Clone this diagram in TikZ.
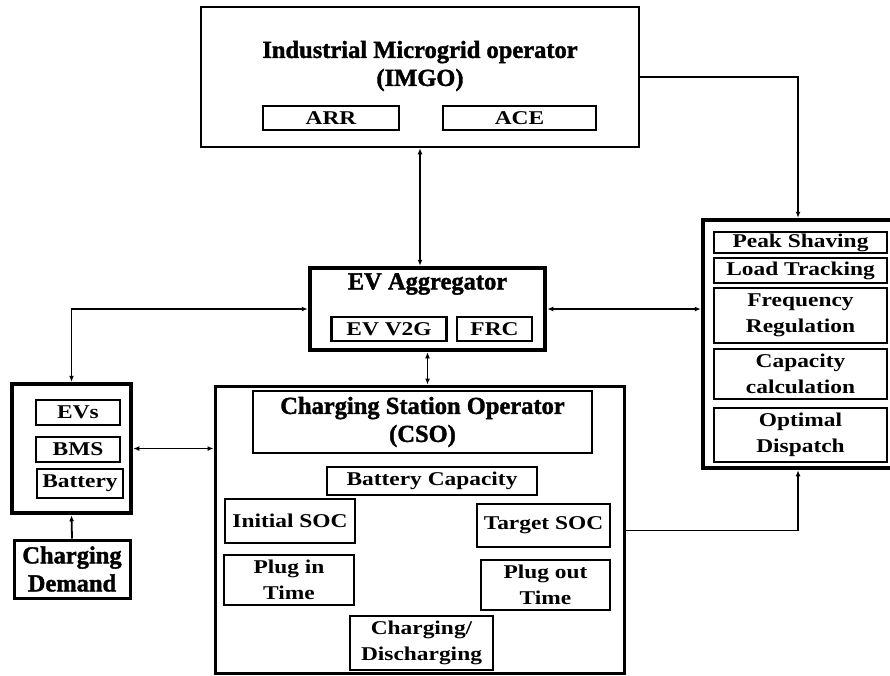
\documentclass[tikz,border=0pt]{standalone}
\usepackage{fontspec}
\setmainfont{Liberation Serif}
\newfontfamily\widefont{Liberation Serif}[FakeStretch=1.2]
\newfontfamily\headfont{Liberation Serif}[FakeBold=1.5]
\usetikzlibrary{arrows.meta,calc}

\begin{document}
\begin{tikzpicture}[x=1pt,y=-1pt,>={Latex[length=6pt,width=5pt]},
    frame/.style={draw,line width=2.5pt,inner sep=0pt},
    thick frame/.style={draw,line width=4.5pt,inner sep=0pt},
    sub/.style={draw,line width=2.2pt,inner sep=0pt,align=center,font=\widefont\fontsize{19.5}{26}\selectfont\bfseries},
    head/.style={inner sep=0pt,align=center,font=\headfont\fontsize{24.5}{28}\selectfont\bfseries},
    link/.style={line width=1.8pt}]
      \useasboundingbox (0,0) rectangle (890,675);
      % outer blocks
      \node[frame,minimum width=438,minimum height=140] (imgo) at (420,77) {};
      \node[thick frame,minimum width=235,minimum height=82] (agg) at (427.5,309) {};
      \node[thick frame,minimum width=190,minimum height=248] (serv) at (798,344) {};
      \node[thick frame,minimum width=119,minimum height=129] (ev) at (71.5,448.5) {};
      \node[frame,line width=3pt,minimum width=409,minimum height=287] (cso) at (419.5,529.5) {};
      \node[frame,line width=3pt,minimum width=116,minimum height=58,head] (dem) at (72,569) {Charging\\Demand};

      \node[head] (imgot) at (420,66) {Industrial Microgrid operator\\(IMGO)};
      \node[sub,minimum width=136,minimum height=24] (arr) at (331,118) {ARR};
      \node[sub,minimum width=153,minimum height=24] (ace) at (519.5,118) {ACE};

      \node[head] (aggt) at (427.5,284) {EV Aggregator};
      \node[sub,minimum width=115,minimum height=24] (v2g) at (389,329) {EV V2G};
      \node[sub,minimum width=75,minimum height=24] (frc) at (494.5,329) {FRC};

      \node[sub,minimum width=173,minimum height=21] (peak) at (800.5,242.5) {Peak Shaving};
      \node[sub,minimum width=173,minimum height=25] (load) at (800.5,270.5) {Load Tracking};
      \node[sub,minimum width=173,minimum height=55] (freq) at (800.5,315.5) {Frequency\\Regulation};
      \node[sub,minimum width=173,minimum height=50] (cap) at (800.5,374) {Capacity\\calculation};
      \node[sub,minimum width=173,minimum height=54] (disp) at (800.5,435) {Optimal\\Dispatch};

      \node[sub,minimum width=84,minimum height=25] (evs) at (78,412.5) {EVs};
      \node[sub,minimum width=84,minimum height=25] (bms) at (78,449.5) {BMS};
      \node[sub,minimum width=86,minimum height=29] (bat) at (80,483.5) {Battery};

      \node[frame,head,line width=2.2pt,minimum width=339,minimum height=62] (csot) at (422.5,422) {Charging Station Operator\\(CSO)};
      \node[sub,minimum width=210,minimum height=28] (bcap) at (432,481) {Battery Capacity};
      \node[sub,minimum width=130,minimum height=44] (isoc) at (290,521) {Initial SOC};
      \node[sub,minimum width=133,minimum height=43] (tsoc) at (543.5,525.5) {Target SOC};
      \node[sub,minimum width=130,minimum height=50] (pin) at (289,580) {Plug in\\Time};
      \node[sub,minimum width=129,minimum height=50] (pout) at (545.5,585) {Plug out\\Time};
      \node[sub,minimum width=143,minimum height=54] (chd) at (421.5,643) {Charging/\\Discharging};

      % connectors
      \draw[link,<->] (imgo.south) -- (imgo.south |- agg.north);
      \draw[link,<->] (agg.south) -- (agg.south |- cso.north);
      \draw[link,<->] (agg.west) -| (ev.north);
      \draw[link,<->] (agg.east) -- (agg.east -| serv.west);
      \draw[link,<->] (ev.east) -- (ev.east -| cso.west);
      \draw[link,->] (dem.north) -- (ev.south);
      \draw[link,->] (imgo.east) -| (serv.north);
      \draw[link,->] ($(tsoc.east -| cso.east)+(0,5)$) -| (serv.south);
\end{tikzpicture}
\end{document}
